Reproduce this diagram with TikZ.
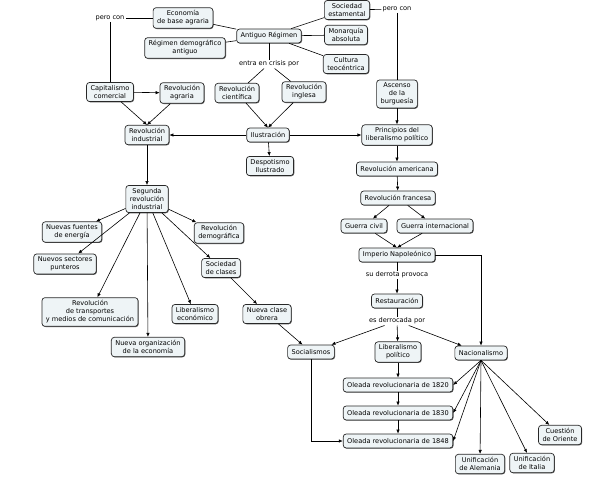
\documentclass[tikz,border=0pt]{standalone}
\usepackage{fontspec}
\setmainfont{DejaVu Sans}
\usetikzlibrary{arrows.meta,shadows}
\definecolor{boxfill}{RGB}{238,244,246}
\definecolor{boxline}{RGB}{40,40,40}

\begin{document}
\begin{tikzpicture}[x=1pt,y=-1pt,
    font=\fontsize{6.6}{8}\selectfont,
    concept/.style={draw=boxline,fill=boxfill,rounded corners=3pt,line width=0.7pt,
      align=center,inner xsep=4pt,inner ysep=3pt,minimum height=14pt,
      drop shadow={shadow xshift=0.7pt,shadow yshift=-0.7pt,fill=black!65,opacity=1}},
    phrase/.style={fill=white,inner sep=1pt},
    >={Latex[length=4pt,width=3.4pt]}, line width=0.6pt]
    \useasboundingbox (0,0) rectangle (598,480);

    \node[concept] at (183, 18) (eco) {Economía\\de base agraria};
    \node[concept] at (185, 48) (rdem) {Régimen demográfico\\antiguo};
    \node[concept] at (269, 36) (ar) {Antiguo Régimen};
    \node[concept] at (347, 10) (sest) {Sociedad\\estamental};
    \node[concept] at (346, 35) (mon) {Monarquía\\absoluta};
    \node[concept] at (346, 64) (cult) {Cultura\\teocéntrica};
    \node[phrase] at (110, 18) (pcon1) {pero con};
    \node[phrase] at (397, 9) (pcon2) {pero con};
    \node[phrase] at (269, 64) (crisis) {entra en crisis por};
    \node[concept] at (110, 92) (capc) {Capitalismo\\comercial};
    \node[concept] at (182, 93) (ragr) {Revolución\\agraria};
    \node[concept] at (237, 93) (rcien) {Revolución\\científica};
    \node[concept] at (304, 92) (ring) {Revolución\\inglesa};
    \node[concept] at (397, 94) (asc) {Ascenso\\de la\\burguesía};
    \node[concept] at (147, 135) (rind) {Revolución\\industrial};
    \node[concept] at (268, 135) (ilus) {Ilustración};
    \node[concept] at (270, 166) (desp) {Despotismo\\Ilustrado};
    \node[concept] at (397, 135) (plib) {Principios del\\liberalismo político};
    \node[concept] at (397, 169) (ramer) {Revolución americana};
    \node[concept] at (398, 198) (rfra) {Revolución francesa};
    \node[concept] at (364, 226) (gciv) {Guerra civil};
    \node[concept] at (435, 226) (gint) {Guerra internacional};
    \node[concept] at (397, 255) (imp) {Imperio Napoleónico};
    \node[phrase] at (397, 275) (derrota) {su derrota provoca};
    \node[concept] at (397, 301) (rest) {Restauración};
    \node[phrase] at (397, 321) (derrocada) {es derrocada por};
    \node[concept] at (147, 199) (srind) {Segunda\\revolución\\industrial};
    \node[concept] at (72, 232) (nfue) {Nuevas fuentes\\de energía};
    \node[concept] at (65, 264) (nsec) {Nuevos sectores\\punteros};
    \node[concept] at (90, 312) (rtra) {Revolución\\de transportes\\y medios de comunicación};
    \node[concept] at (148, 347) (norg) {Nueva organización\\de la economía};
    \node[concept] at (195, 314) (leco) {Liberalismo\\económico};
    \node[concept] at (221, 268) (scla) {Sociedad\\de clases};
    \node[concept] at (219, 233) (rdemo) {Revolución\\demográfica};
    \node[concept] at (267, 314) (nco) {Nueva clase\\obrera};
    \node[concept] at (311, 352) (soc) {Socialismos};
    \node[concept] at (398, 352) (lpol) {Liberalismo\\político};
    \node[concept] at (481, 353) (nac) {Nacionalismo};
    \node[concept] at (398, 385) (ol20) {Oleada revolucionaria de 1820};
    \node[concept] at (398, 413) (ol30) {Oleada revolucionaria de 1830};
    \node[concept] at (398, 441) (ol48) {Oleada revolucionaria de 1848};
    \node[concept] at (480, 464) (ualem) {Unificación\\de Alemania};
    \node[concept] at (532, 463) (uital) {Unificación\\de Italia};
    \node[concept] at (560, 435) (corie) {Cuestión\\de Oriente};

    \draw (eco) -- (ar);
    \draw (rdem) -- (ar);
    \draw (ar) -- (sest);
    \draw (ar) -- (mon);
    \draw (ar) -- (cult);
    \draw (eco) -- (pcon1);
    \draw (pcon1) -- (capc);
    \draw (sest) -- (pcon2);
    \draw (pcon2) -- (asc);
    \draw (ar) -- (crisis);
    \draw (crisis) -- (rcien);
    \draw (crisis) -- (ring);

    \draw[->] (capc) -- (ragr);
    \draw[->] (capc) -- (rind.north);
    \draw[->] (ragr) -- (rind.north);
    \draw[->] (rcien) -- (ilus.north);
    \draw[->] (ring) -- (ilus.north);
    \draw[->] (ilus) -- (rind);
    \draw[->] (ilus) -- (plib);
    \draw[->] (ilus) -- (desp);
    \draw[->] (asc) -- (plib);
    \draw[->] (rind) -- (srind);
    \draw[->] (plib) -- (ramer);
    \draw[->] (ramer) -- (rfra);
    \draw[->] (rfra) -- (gciv);
    \draw[->] (rfra) -- (gint);
    \draw[->] (gciv) -- (imp.north);
    \draw[->] (gint) -- (imp.north);
    \draw (imp) -- (derrota);
    \draw[->] (derrota) -- (rest);
    \draw[->] (imp) -| (nac);
    \draw (rest) -- (derrocada);
    \draw[->] (derrocada) -- (soc);
    \draw[->] (derrocada) -- (lpol);
    \draw[->] (derrocada) -- (nac);

    \foreach \t in {nfue,nsec,rtra,norg,leco,scla,rdemo}
      \draw[->] (srind) -- (\t);
    \draw[->] (scla) -- (nco);
    \draw[->] (nco) -- (soc);

    \draw[->] (lpol) -- (ol20);
    \draw[->] (ol20) -- (ol30);
    \draw[->] (ol30) -- (ol48);
    \draw[->] (soc) |- (ol48);
    \foreach \t in {ol20,ol30,ol48}
      \draw[->] (nac.south) -- (\t.east);
    \foreach \t in {ualem,uital,corie}
      \draw[->] (nac.south) -- (\t);
  \end{tikzpicture}
\end{document}
